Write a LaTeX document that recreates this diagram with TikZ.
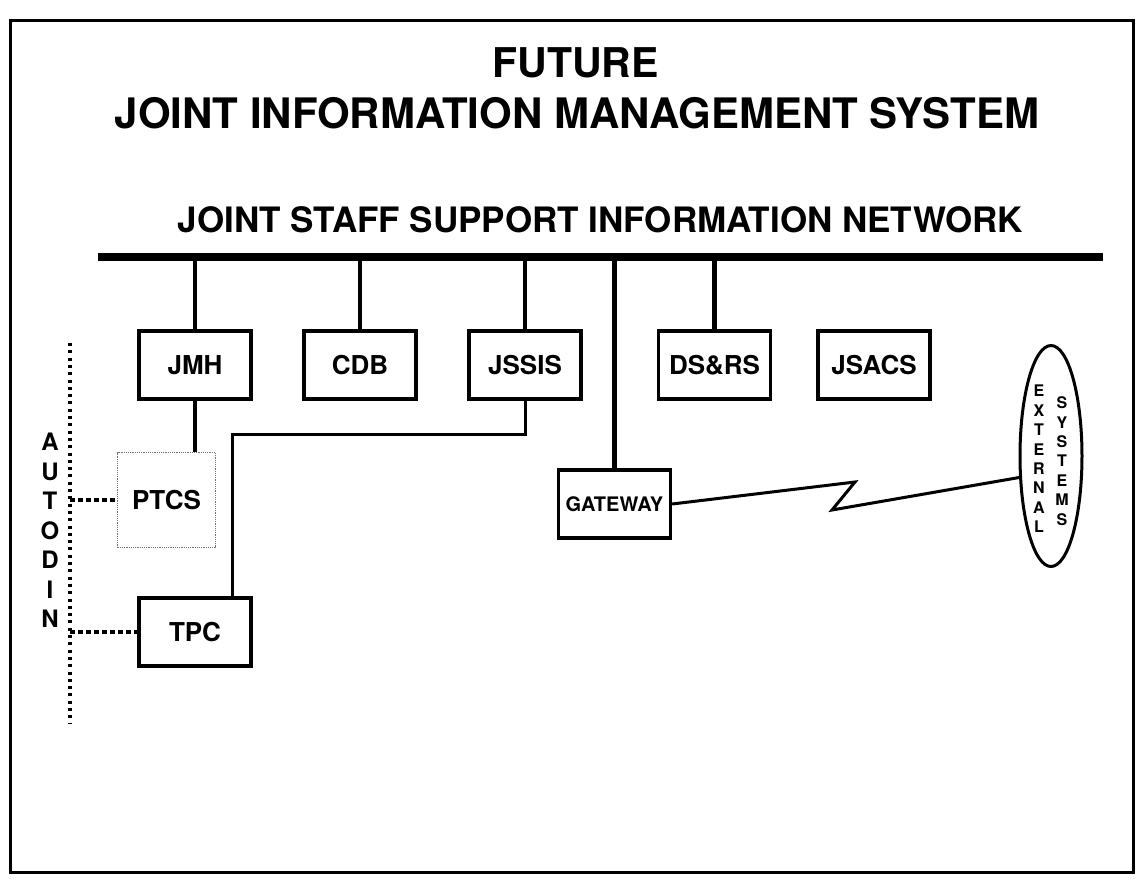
\documentclass[tikz,border=0pt]{standalone}
\usepackage{fontspec}
\setmainfont{TeX Gyre Heros}
\usetikzlibrary{shapes.geometric}

\begin{document}
\begin{tikzpicture}[x=1pt,y=-1pt]

% Styles
\tikzstyle{unit} 	=	[rectangle, draw, line width=3.3pt, minimum width=112pt, minimum height=68pt, inner sep=0pt, font=\fontsize{26}{30}\selectfont\bfseries]
\tikzstyle{stem} 	=	[line width=4.2pt]
\tikzstyle{link} 	=	[line width=3pt]
\tikzstyle{tap} 	=	[line width=3.2pt, dash pattern=on 5pt off 3pt]
\tikzstyle{title} 	=	[inner sep=0pt]

	\useasboundingbox (0,0) rectangle (1144,887);
	\draw[line width=3pt] (10,20) rectangle (1133,872); % Ramme

	% Titles
	\node[title, font=\fontsize{41}{48}\selectfont\bfseries] (future) at (575.5,62.5) {FUTURE};
	\node[title, font=\fontsize{42}{48}\selectfont\bfseries] (jims) at (577,113) {JOINT INFORMATION MANAGEMENT SYSTEM};
	\node[title, font=\fontsize{35}{40}\selectfont\bfseries] (jssin) at (600.5,220) {JOINT STAFF SUPPORT INFORMATION NETWORK};

	% Network bus
	\coordinate (busW) at (98,257);
	\coordinate (busE) at (1103,257);
	\draw[line width=7.5pt] (busW) -- (busE);

	% Units on the bus
	\node[unit] (jmh) at (195,365) {JMH};
	\node[unit] (cdb) [right of=jmh, node distance=165pt] {CDB};
	\node[unit] (jssis) [right of=cdb, node distance=165pt] {JSSIS};
	\node[unit] (dsrs) [right of=jssis, node distance=189.5pt] {DS\&RS};
	\node[unit] (jsacs) [right of=dsrs, node distance=159.5pt] {JSACS};
	\draw[stem] (jmh.north) -- (jmh.north |- busW);
	\draw[stem] (cdb.north) -- (cdb.north |- busW);
	\draw[stem] (jssis.north) -- (jssis.north |- busW);
	\draw[stem] (dsrs.north) -- (dsrs.north |- busW);

	% Gateway
	\node[unit, font=\fontsize{20}{24}\selectfont\bfseries] (gateway) at (614.5,504) {GATEWAY};
	\draw[stem] (gateway.north) -- (gateway.north |- busW);

	% PTCS and TPC
	\node[rectangle, draw=black!55, densely dotted, line width=1.2pt, minimum width=98pt, minimum height=95pt, inner sep=0pt, font=\fontsize{26}{30}\selectfont\bfseries] (ptcs) at (166.5,500) {PTCS};
	\node[unit] (tpc) [below of=jmh, node distance=267pt] {TPC};
	\draw[stem] (jmh.south) -- (jmh.south |- ptcs.north);
	\coordinate (bend) at (232,434);
	\draw[link] (jssis.south) |- (bend) -- (bend |- tpc.north); % JSSIS til TPC

	% AUTODIN
	\node[inner sep=0pt, align=center, font=\fontsize{24}{29.5}\selectfont\bfseries] (autodin) at (50,530.5) {A\\U\\T\\O\\D\\I\\N};
	\coordinate (adTop) at (70,343);
	\coordinate (adBot) at (70,723);
	\draw[line width=3.2pt, dash pattern=on 3pt off 4.3pt] (adTop) -- (adBot);
	\draw[tap] (ptcs.west -| adTop) -- (ptcs.west);
	\draw[tap] (tpc.west -| adTop) -- (tpc.west);

	% External systems
	\node[ellipse, draw, line width=3pt, minimum width=62pt, minimum height=221pt, inner sep=0pt] (extsys) at (1051,456) {};
	\node[inner sep=0pt, align=center, font=\fontsize{16}{19.4}\selectfont\bfseries] (extA) at (1039,459) {E\\X\\T\\E\\R\\N\\A\\L};
	\node[inner sep=0pt, align=center, font=\fontsize{16}{19.4}\selectfont\bfseries] (extB) at (1062,461) {S\\Y\\S\\T\\E\\M\\S};
	\coordinate (zigA) at (855,482);
	\coordinate (zigB) at (832,510);
	\draw[link] (gateway.east) -- (zigA) -- (zigB) -- (extsys.214); % Samband

\end{tikzpicture}
\end{document}
